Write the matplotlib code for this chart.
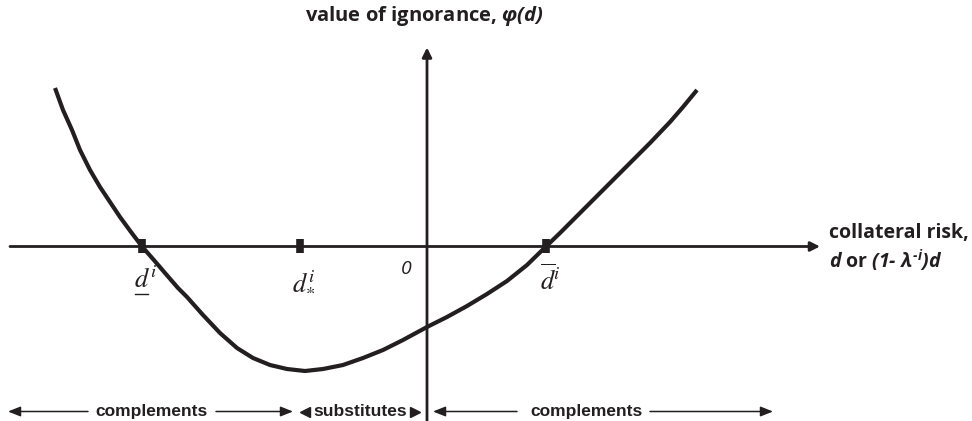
import matplotlib
matplotlib.use("Agg")
import matplotlib.pyplot as plt

# curve phi(d) (origin at the axes crossing)
CURVE_X = [-3.72, -3.64, -3.55, -3.47, -3.37, -3.27, -3.17, -3.07, -2.96, -2.85,
           -2.74, -2.62, -2.49, -2.40, -2.24, -2.07, -1.90, -1.74, -1.57, -1.40,
           -1.22, -1.04, -0.84, -0.64, -0.44, -0.24, 0.00, 0.20, 0.40, 0.60,
           0.80, 1.00, 1.19, 1.33, 1.43, 1.63, 1.83, 2.03, 2.23, 2.43,
           2.56, 2.70]
CURVE_Y = [1.585, 1.365, 1.165, 0.965, 0.765, 0.595, 0.445, 0.295, 0.145, 0.000,
           -0.125, -0.265, -0.415, -0.505, -0.685, -0.865, -1.015, -1.115, -1.185, -1.225,
           -1.245, -1.225, -1.185, -1.115, -1.035, -0.935, -0.805, -0.705, -0.595, -0.475,
           -0.345, -0.185, 0.000, 0.135, 0.235, 0.435, 0.635, 0.835, 1.035, 1.245,
           1.395, 1.565]

# marked points on the horizontal axis
TICK_X = [-2.85, -1.27, 1.19]
TICK_LABELS = [r"$d^{i}$", r"$d_{*}^{i}$", r"$\overline{d}^{i}$"]

# region labels along the bottom
REGION_LABELS = ["complements", "substitutes", "complements"]
REGION_X = [-2.76, -0.67, 1.59]

INK = "#231f20"

# math parts of the axis titles are bold italic
plt.rcParams["mathtext.fontset"] = "custom"
plt.rcParams["mathtext.rm"] = "Open Sans:italic:bold"
plt.rcParams["mathtext.bf"] = "Open Sans:italic:bold"
plt.rcParams["mathtext.it"] = "Open Sans:italic:bold"

fig = plt.figure(figsize=(9.72, 4.21), dpi=100)
ax = fig.add_axes([0, 0, 1, 1])
ax.set_xlim(-4.27, 5.45)
ax.set_ylim(-1.745, 2.465)
ax.axis("off")

arrow = dict(arrowstyle="-|>", color=INK, lw=2, mutation_scale=14, shrinkA=0, shrinkB=0)
small_arrow = dict(arrowstyle="-|>,head_length=0.75,head_width=0.3", color=INK,
                   lw=1.1, mutation_scale=10, shrinkA=0, shrinkB=0)

# axes
ax.annotate("", xy=(3.93, 0), xytext=(-4.17, 0), arrowprops=arrow)
ax.annotate("", xy=(0, 1.99), xytext=(0, -1.76), arrowprops=arrow)

# curve
ax.plot(CURVE_X, CURVE_Y, color=INK, lw=3, solid_capstyle="butt",
        solid_joinstyle="round", zorder=3)

# ticks and their labels
ax.plot(TICK_X, [0] * len(TICK_X), ls="none", marker="|", ms=9.5, mew=5.5,
        color=INK, zorder=4)
for x, lab in zip(TICK_X, TICK_LABELS):
    ax.text(x + 0.04, -0.34, lab, ha="center", va="center", fontsize=19,
            math_fontfamily="stix", color=INK)
# underline of the lower bound label
ax.plot([TICK_X[0] - 0.065, TICK_X[0] + 0.065], [-0.47, -0.47], color=INK, lw=1)
ax.text(-0.21, -0.23, "0", ha="center", va="center", fontsize=14,
        family="Open Sans", style="italic", color=INK)

# axis titles
ax.text(-0.03, 2.31, r"value of ignorance, $\varphi(d)$", ha="center",
        va="center", fontsize=14.5, family="Open Sans", weight="bold", color=INK)
ax.text(4.02, 0.13, "collateral risk,", ha="left", va="center",
        fontsize=14, family="Open Sans", weight="bold", color=INK)
ax.text(4.02, -0.14, r"$d$ or $(1\text{-}$ $\lambda^{\text{-}i})d$", ha="left",
        va="center", fontsize=14, family="Open Sans", weight="bold", color=INK)

# bottom region arrows
yb = -1.65
ax.annotate("", xy=(-4.19, yb), xytext=(-3.39, yb), arrowprops=small_arrow)
ax.annotate("", xy=(-1.34, yb), xytext=(-2.11, yb), arrowprops=small_arrow)
ax.annotate("", xy=(0.06, yb), xytext=(0.90, yb), arrowprops=small_arrow)
ax.annotate("", xy=(3.46, yb), xytext=(2.23, yb), arrowprops=small_arrow)
ax.plot([-1.22], [yb], ls="none", marker="<", ms=7, color=INK)
ax.plot([-0.12], [yb], ls="none", marker=">", ms=7, color=INK)
for x, lab in zip(REGION_X, REGION_LABELS):
    ax.text(x, yb, lab, ha="center", va="center", fontsize=12.5,
            family="Liberation Sans", weight="bold", color=INK)

fig.savefig("out.png", dpi=100)
